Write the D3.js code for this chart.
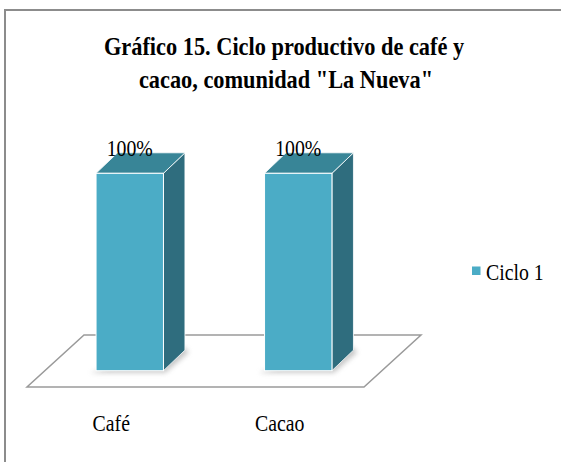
<!DOCTYPE html>
<html><head><meta charset="utf-8">
<script src="https://cdn.jsdelivr.net/npm/d3@7"></script>
<style>html,body{margin:0;padding:0;background:#fff;}svg{display:block;}</style>
</head><body>
<script>
const categories = ["Café", "Cacao"];
const values = [100, 100];
const valueLabels = ["100%", "100%"];
const seriesName = "Ciclo 1";
const titleLines = ["Gráfico 15. Ciclo productivo de café y", "cacao, comunidad \"La Nueva\""];

const W = 561, H = 462;
const svg = d3.select("body").append("svg").attr("width", W).attr("height", H);

const defs = svg.append("defs");
const f = defs.append("filter").attr("id","sh").attr("x","-50%").attr("y","-50%").attr("width","200%").attr("height","200%");
f.append("feGaussianBlur").attr("stdDeviation", 2.5);

// border
svg.append("rect").attr("x", 5).attr("y", 10).attr("width", 600).attr("height", 500)
  .attr("fill", "#fff").attr("stroke", "#8c8c8c").attr("stroke-width", 2);

const sx = 0.86;
function ctext(x, y, txt, size, weight, anchor) {
  const g = svg.append("g").attr("transform", `translate(${x},${y}) scale(${sx},1)`);
  g.append("text").attr("text-anchor", anchor || "middle")
    .style("font-family", "\"Liberation Serif\"")
    .attr("font-size", size).attr("font-weight", weight || "normal")
    .attr("fill", "#000").text(txt);
  return g;
}

// title
ctext(284, 55, titleLines[0], 26, "bold");
ctext(286, 88, titleLines[1], 26, "bold");

// floor
const depthFloor = {dx: 57, dy: -52};
const floorFront = {y: 387, x0: 27, x1: 364};
const floorPts = [
  [floorFront.x0, floorFront.y],
  [floorFront.x1, floorFront.y],
  [floorFront.x1 + depthFloor.dx, floorFront.y + depthFloor.dy],
  [floorFront.x0 + depthFloor.dx, floorFront.y + depthFloor.dy]
];
svg.append("polygon").attr("points", floorPts.map(p => p.join(",")).join(" "))
  .attr("fill", "#fff").attr("stroke", "#9a9a9a").attr("stroke-width", 1.5);

// scales
const barShift = 18.5;
const x = d3.scaleBand().domain(categories)
  .range([floorFront.x0 + barShift, floorFront.x1 + barShift])
  .paddingInner(0.6).paddingOuter(0.3);
const y = d3.scaleLinear().domain([0, 100]).range([370.7, 173.3]);
const xLab = d3.scaleBand().domain(categories).range([floorFront.x0, floorFront.x1]);

const dx = 21.5, dy = -20.5;
const data = categories.map((c, i) => ({c, v: values[i], lab: valueLabels[i]}));

// shadows
svg.selectAll(".shadow").data(data).enter().append("polygon")
  .attr("points", d => {
    const x0 = x(d.c), x1 = x0 + x.bandwidth(), b = y(0);
    return [[x0 - 6, b + 2], [x1 + 2, b + 2], [x1 + dx + 4, b + dy + 2], [x1 + dx - 2, b + dy - 4]].map(p => p.join(",")).join(" ");
  })
  .attr("fill", "#9a9a9a").attr("opacity", 0.55).attr("filter", "url(#sh)");

const bars = svg.selectAll(".bar").data(data).enter().append("g");
bars.append("polygon") // side
  .attr("points", d => {
    const x1 = x(d.c) + x.bandwidth(), t = y(d.v), b = y(0);
    return [[x1, t], [x1 + dx, t + dy], [x1 + dx, b + dy], [x1, b]].map(p => p.join(",")).join(" ");
  })
  .attr("fill", "#2f6d7e").attr("stroke", "#fff").attr("stroke-width", 0.8).attr("stroke-linejoin", "round");
bars.append("polygon") // top
  .attr("points", d => {
    const x0 = x(d.c), x1 = x0 + x.bandwidth(), t = y(d.v);
    return [[x0, t], [x0 + dx, t + dy], [x1 + dx, t + dy], [x1, t]].map(p => p.join(",")).join(" ");
  })
  .attr("fill", "#388597").attr("stroke", "#fff").attr("stroke-width", 0.8).attr("stroke-linejoin", "round");
bars.append("rect") // front
  .attr("x", d => x(d.c)).attr("y", d => y(d.v))
  .attr("width", x.bandwidth()).attr("height", d => y(0) - y(d.v))
  .attr("fill", "#4bacc6").attr("stroke", "#fff").attr("stroke-width", 1);

// value labels
data.forEach(d => ctext(x(d.c) + x.bandwidth() / 2, 156, d.lab, 23, "normal"));

// category labels
categories.forEach(c => ctext(xLab(c) + xLab.bandwidth() / 2, 431, c, 23, "normal"));

// legend
svg.append("rect").attr("x", 472).attr("y", 266.5).attr("width", 8.5).attr("height", 8.5).attr("fill", "#4bacc6");
ctext(486, 280, seriesName, 23, "normal", "start");
</script>
</body></html>
